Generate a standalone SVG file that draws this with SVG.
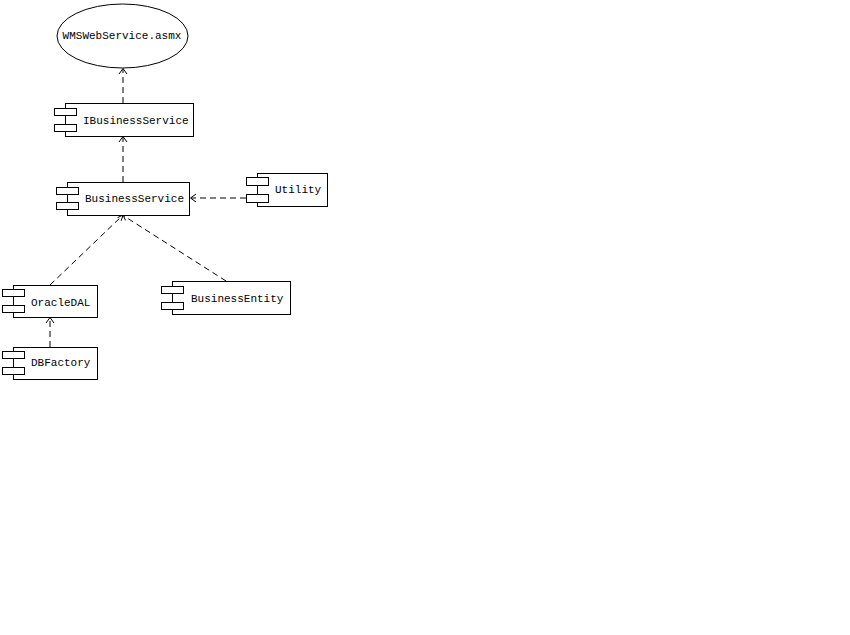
<svg xmlns="http://www.w3.org/2000/svg" width="850" height="635" viewBox="0 0 850 635">
<style>
.body{fill:#fff;stroke:#000;stroke-width:1}
.tab{fill:#fff;stroke:#000;stroke-width:1}
.lbl{font-family:"Liberation Mono","DejaVu Sans Mono",monospace;font-size:11px;fill:#000}
.dep{fill:none;stroke:#000;stroke-width:1;stroke-dasharray:6,4}
.head{fill:none;stroke:#000;stroke-width:1}
</style>
<rect width="850" height="635" fill="#fff"/>
<g id="connectors">
  <line class="dep" x1="123" y1="103" x2="123" y2="69"/>
  <polyline class="head" points="119,74 123,68.5 127,74"/>
  <line class="dep" x1="123" y1="182" x2="123" y2="137"/>
  <polyline class="head" points="119,142 123,136.5 127,142"/>
  <line class="dep" x1="246" y1="198" x2="191" y2="198"/>
  <polyline class="head" points="196,194 190.5,198 196,202"/>
  <line class="dep" x1="50" y1="285" x2="122" y2="216"/>
  <polyline class="head" points="117.6,217.6 123,215 121.2,220.8"/>
  <line class="dep" x1="226" y1="281" x2="124" y2="216"/>
  <polyline class="head" points="125.6,220.4 123,215 129,215.5"/>
  <line class="dep" x1="50" y1="347" x2="50" y2="318"/>
  <polyline class="head" points="46,323 50,317.5 54,323"/>
</g>
<g id="WMSWebService">
  <ellipse cx="122.5" cy="36" rx="65.5" ry="32" fill="#fff" stroke="#000"/>
  <text class="lbl" x="122" y="39" text-anchor="middle">WMSWebService.asmx</text>
</g>
<g id="IBusinessService">
  <rect class="body" x="65.5" y="103.5" width="128" height="33"/>
  <rect class="tab" x="54.5" y="108.5" width="22" height="7"/>
  <rect class="tab" x="54.5" y="124.5" width="22" height="7"/>
  <text class="lbl" x="83" y="124">IBusinessService</text>
</g>
<g id="BusinessService">
  <rect class="body" x="67.5" y="182.5" width="122" height="33"/>
  <rect class="tab" x="56.5" y="187.5" width="22" height="7"/>
  <rect class="tab" x="56.5" y="202.5" width="22" height="7"/>
  <text class="lbl" x="85" y="202">BusinessService</text>
</g>
<g id="Utility">
  <rect class="body" x="257.5" y="173.5" width="70" height="33"/>
  <rect class="tab" x="246.5" y="177.5" width="22" height="8"/>
  <rect class="tab" x="246.5" y="194.5" width="22" height="8"/>
  <text class="lbl" x="275" y="193">Utility</text>
</g>
<g id="BusinessEntity">
  <rect class="body" x="172.5" y="281.5" width="118" height="33"/>
  <rect class="tab" x="161.5" y="286.5" width="22" height="7"/>
  <rect class="tab" x="161.5" y="302.5" width="22" height="7"/>
  <text class="lbl" x="191" y="302">BusinessEntity</text>
</g>
<g id="OracleDAL">
  <rect class="body" x="13.5" y="285.5" width="84" height="32"/>
  <rect class="tab" x="2.5" y="289.5" width="22" height="7"/>
  <rect class="tab" x="2.5" y="305.5" width="22" height="7"/>
  <text class="lbl" x="31" y="306">OracleDAL</text>
</g>
<g id="DBFactory">
  <rect class="body" x="13.5" y="347.5" width="84" height="32"/>
  <rect class="tab" x="2.5" y="351.5" width="22" height="7"/>
  <rect class="tab" x="2.5" y="367.5" width="22" height="7"/>
  <text class="lbl" x="31" y="366">DBFactory</text>
</g>
</svg>
